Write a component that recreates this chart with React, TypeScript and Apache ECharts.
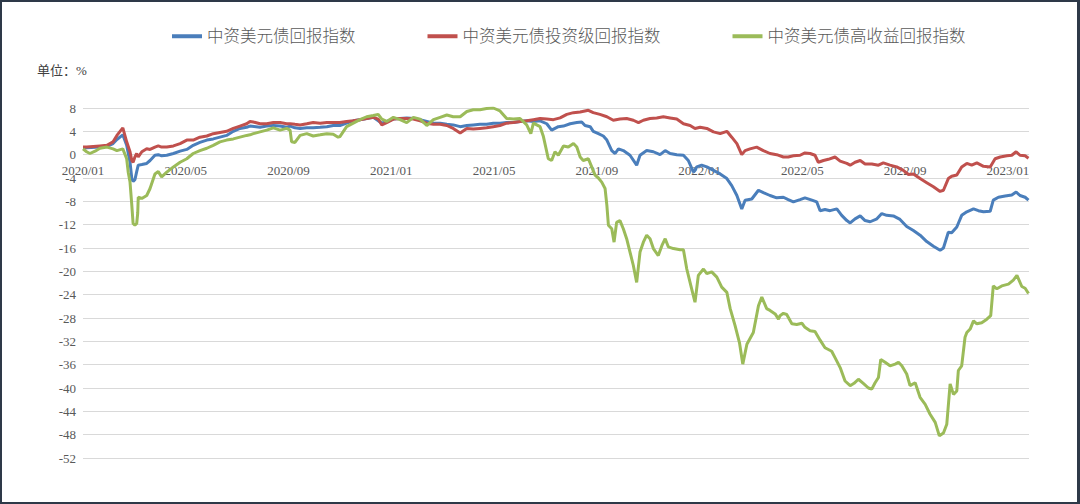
import React, { useEffect, useRef } from 'react';
import * as echarts from 'echarts';

// x 轴单位：自 2020/01 起的月数
const seriesNames = ['中资美元债回报指数', '中资美元债投资级回报指数', '中资美元债高收益回报指数'];
const seriesColors = ['#4A7EBB', '#C0504D', '#9BBB59'];
const xTickLabels = ['2020/01', '2020/05', '2020/09', '2021/01', '2021/05', '2021/09', '2022/01', '2022/05', '2022/09', '2023/01'];
const unitLabel = '单位：%';

const totalReturn = [
  [0, 1.2], [0.14, 1.2], [0.66, 1.3], [0.93, 1.4], [1.17, 1.9], [1.32, 2.6], [1.55, 3.4], [1.7, 1.6], [1.83, -1.3], [1.9, -4.1],
  [1.95, -4.6], [2.02, -4.3], [2.09, -2.9], [2.15, -1.8], [2.29, -1.7], [2.48, -1.5], [2.61, -1.0], [2.8, -0.1], [2.93, 0], [3.06, -0.2],
  [3.26, -0.1], [3.52, 0.2], [3.78, 0.6], [4.04, 0.9], [4.29, 1.6], [4.55, 2.1], [4.82, 2.5], [5.07, 2.7], [5.33, 3.0], [5.59, 3.3],
  [5.85, 4.0], [6.11, 4.5], [6.37, 4.7], [6.5, 4.9], [6.89, 4.7], [7.15, 4.9], [7.41, 5.0], [7.67, 4.9], [7.93, 4.7], [8.06, 4.9],
  [8.25, 4.6], [8.45, 4.5], [8.71, 4.6], [8.96, 4.6], [9.23, 4.7], [9.49, 4.8], [9.74, 5.0], [10.0, 5.0], [10.26, 5.4], [10.52, 5.8],
  [10.78, 6.0], [11.04, 6.2], [11.3, 6.4], [11.63, 5.4], [11.82, 5.7], [12.08, 6.1], [12.34, 6.2], [12.6, 6.3], [12.86, 6.2], [13.12, 6.0],
  [13.38, 5.7], [13.64, 5.4], [13.9, 5.4], [14.16, 5.2], [14.41, 5.1], [14.68, 4.8], [14.94, 5.0], [15.19, 5.1], [15.45, 5.2], [15.71, 5.2],
  [15.97, 5.4], [16.23, 5.4], [16.49, 5.5], [16.75, 5.5], [17.01, 5.7], [17.27, 5.8], [17.53, 5.7], [17.79, 5.8], [18.05, 5.3], [18.24, 4.2],
  [18.37, 4.5], [18.5, 4.8], [18.7, 4.9], [18.96, 5.3], [19.22, 5.5], [19.41, 5.6], [19.54, 5.0], [19.74, 4.8], [19.86, 4.0], [20.06, 3.6],
  [20.25, 3.2], [20.39, 2.5], [20.58, 0.7], [20.71, 0.2], [20.84, 1.0], [21.03, 0.7], [21.29, -0.1], [21.55, -1.8], [21.68, -0.1], [21.94, 0.7],
  [22.2, 0.5], [22.46, 0], [22.66, 0.7], [22.85, 0.2], [23.11, 0], [23.37, -0.1], [23.56, -1.0], [23.76, -3.0], [23.89, -2.1], [24.08, -1.8],
  [24.28, -2.1], [24.54, -2.7], [24.8, -3.3], [25.06, -4.1], [25.25, -5.3], [25.45, -7.0], [25.64, -9.3], [25.77, -7.8], [26.03, -7.6], [26.29, -6.1],
  [26.48, -6.5], [26.74, -7.0], [27.0, -7.4], [27.26, -7.3], [27.45, -7.7], [27.65, -8.1], [27.91, -7.7], [28.1, -7.4], [28.37, -7.8], [28.56, -8.1],
  [28.69, -9.6], [28.88, -9.4], [29.08, -9.6], [29.34, -9.3], [29.53, -10.4], [29.73, -11.3], [29.86, -11.7], [30.05, -11.0], [30.25, -10.5], [30.44, -11.3],
  [30.64, -11.5], [30.9, -11.0], [31.09, -10.1], [31.28, -10.4], [31.54, -10.5], [31.8, -11.1], [32.06, -12.3], [32.32, -13.0], [32.58, -13.8], [32.84, -14.9],
  [33.1, -15.7], [33.36, -16.4], [33.49, -16.0], [33.68, -13.3], [33.81, -13.4], [34.01, -12.4], [34.2, -10.4], [34.4, -9.8], [34.66, -9.3], [34.85, -9.6],
  [35.05, -9.8], [35.31, -9.7], [35.43, -7.8], [35.63, -7.3], [35.89, -7.1], [36.15, -6.9], [36.32, -6.4], [36.47, -7.0], [36.67, -7.3], [36.8, -7.8],
];

const investmentGrade = [
  [0, 1.3], [0.14, 1.3], [0.66, 1.5], [0.93, 1.6], [1.17, 2.2], [1.32, 3.3], [1.55, 4.6], [1.7, 2.2], [1.83, 0.5], [1.9, -1.0],
  [1.95, -1.3], [2.02, -0.4], [2.09, 0.2], [2.15, -0.4], [2.29, 0.5], [2.48, 1.0], [2.61, 0.9], [2.8, 1.3], [2.93, 1.5], [3.06, 1.3],
  [3.26, 1.3], [3.52, 1.5], [3.78, 1.9], [4.04, 2.5], [4.29, 2.5], [4.55, 3.0], [4.82, 3.2], [5.07, 3.6], [5.33, 3.8], [5.59, 4.0],
  [5.85, 4.5], [6.11, 4.9], [6.37, 5.3], [6.5, 5.7], [6.63, 5.6], [6.89, 5.3], [7.15, 5.3], [7.41, 5.5], [7.67, 5.5], [7.93, 5.3],
  [8.06, 5.3], [8.25, 5.2], [8.45, 5.1], [8.71, 5.3], [8.96, 5.5], [9.23, 5.4], [9.49, 5.5], [9.74, 5.5], [10.0, 5.5], [10.26, 5.7],
  [10.52, 5.8], [10.78, 6.0], [11.04, 6.2], [11.3, 6.4], [11.49, 6.1], [11.63, 5.1], [11.82, 5.5], [12.08, 6.1], [12.34, 6.2], [12.6, 6.2],
  [12.86, 6.1], [13.12, 5.8], [13.38, 5.4], [13.64, 5.2], [13.9, 5.2], [14.16, 5.0], [14.41, 4.5], [14.68, 3.7], [14.94, 4.5], [15.19, 4.4],
  [15.45, 4.5], [15.71, 4.6], [15.97, 4.8], [16.23, 5.0], [16.49, 5.4], [16.75, 5.5], [17.01, 5.7], [17.27, 5.8], [17.53, 6.0], [17.79, 6.2],
  [18.05, 6.1], [18.31, 6.0], [18.57, 6.3], [18.83, 6.9], [19.09, 7.2], [19.35, 7.3], [19.67, 7.6], [19.86, 7.2], [20.12, 6.9], [20.39, 6.5],
  [20.64, 5.9], [20.9, 6.1], [21.16, 6.2], [21.42, 5.9], [21.62, 5.5], [21.81, 5.9], [22.07, 6.2], [22.33, 6.3], [22.59, 6.5], [22.85, 6.3],
  [23.11, 6.1], [23.37, 5.3], [23.63, 5.0], [23.82, 4.5], [24.02, 4.7], [24.28, 4.5], [24.54, 3.9], [24.8, 3.6], [25.06, 4.0], [25.25, 3.0],
  [25.45, 1.9], [25.64, 0], [25.77, 0.7], [25.96, 1.0], [26.22, 1.3], [26.48, 0.7], [26.74, 0.2], [27.0, 0], [27.26, -0.4], [27.45, -0.4],
  [27.65, -0.2], [27.91, -0.1], [28.1, 0.3], [28.3, 0.2], [28.49, -0.1], [28.62, -1.3], [28.82, -1.0], [29.01, -0.8], [29.27, -0.4], [29.47, -1.1],
  [29.73, -1.5], [29.86, -1.8], [30.05, -1.3], [30.25, -1.0], [30.44, -1.6], [30.7, -1.6], [30.96, -1.8], [31.15, -1.4], [31.41, -1.8], [31.67, -2.1],
  [31.93, -2.7], [32.13, -3.4], [32.32, -3.3], [32.58, -4.1], [32.84, -4.8], [33.1, -5.5], [33.36, -6.3], [33.49, -6.1], [33.68, -4.1], [33.81, -3.7],
  [34.01, -3.5], [34.2, -2.1], [34.4, -1.5], [34.59, -1.8], [34.79, -1.4], [35.05, -2.0], [35.31, -2.1], [35.5, -0.7], [35.7, -0.4], [35.96, -0.2],
  [36.15, -0.1], [36.32, 0.5], [36.47, -0.1], [36.67, -0.2], [36.8, -0.6],
];

const highYield = [
  [0, 1.0], [0.14, 0.5], [0.27, 0.2], [0.47, 0.6], [0.66, 1.1], [0.93, 1.3], [1.17, 1.0], [1.32, 0.7], [1.55, 1.0], [1.7, -0.7],
  [1.76, -3.0], [1.83, -4.7], [1.9, -8.7], [1.95, -11.8], [2.02, -12.1], [2.09, -11.8], [2.13, -10.0], [2.15, -7.3], [2.29, -7.5], [2.48, -7.0],
  [2.61, -5.8], [2.8, -3.3], [2.93, -2.9], [3.06, -3.8], [3.26, -3.0], [3.52, -2.1], [3.78, -1.3], [4.04, -0.7], [4.29, 0.2], [4.55, 0.7],
  [4.82, 1.1], [5.07, 1.6], [5.33, 2.2], [5.59, 2.5], [5.85, 2.7], [6.11, 3.0], [6.37, 3.3], [6.5, 3.4], [6.63, 3.6], [6.89, 3.9],
  [7.15, 4.2], [7.41, 4.6], [7.67, 4.2], [7.93, 4.5], [8.06, 4.2], [8.12, 2.2], [8.25, 2.1], [8.45, 3.3], [8.71, 3.6], [8.96, 3.2],
  [9.23, 3.4], [9.49, 3.6], [9.74, 3.5], [9.93, 3.0], [10.0, 3.1], [10.26, 4.8], [10.52, 5.4], [10.78, 6.0], [11.04, 6.5], [11.3, 6.7],
  [11.49, 6.9], [11.63, 6.1], [11.82, 5.7], [12.08, 6.4], [12.34, 6.0], [12.6, 5.5], [12.86, 6.4], [13.12, 6.1], [13.38, 5.0], [13.64, 6.0],
  [13.9, 6.4], [14.16, 6.8], [14.41, 6.5], [14.68, 6.5], [14.94, 7.4], [15.19, 7.7], [15.45, 7.7], [15.71, 7.9], [15.97, 8.0], [16.23, 7.5],
  [16.49, 6.2], [16.75, 6.1], [17.01, 6.2], [17.27, 5.1], [17.43, 3.6], [17.53, 5.4], [17.79, 4.8], [17.92, 3.1], [18.11, -0.7], [18.24, -1.0],
  [18.37, 0.5], [18.5, -0.1], [18.7, 1.5], [18.89, 1.3], [19.09, 1.9], [19.22, 1.3], [19.35, -0.4], [19.47, -1.0], [19.67, -0.7], [19.8, -2.1],
  [19.93, -3.5], [20.06, -4.0], [20.19, -4.7], [20.32, -5.8], [20.39, -8.7], [20.45, -12.1], [20.58, -12.7], [20.67, -15.0], [20.77, -11.6], [20.9, -11.3],
  [21.03, -12.7], [21.16, -14.4], [21.29, -16.7], [21.42, -19.0], [21.55, -21.9], [21.68, -16.7], [21.81, -15.0], [21.94, -13.8], [22.07, -14.4], [22.2, -16.1],
  [22.39, -17.3], [22.53, -15.6], [22.66, -14.4], [22.78, -15.8], [22.98, -16.1], [23.24, -16.3], [23.37, -16.3], [23.5, -19.6], [23.69, -23.0], [23.82, -25.3],
  [23.95, -20.7], [24.15, -19.6], [24.28, -20.4], [24.47, -20.1], [24.67, -21.0], [24.86, -22.7], [25.06, -23.6], [25.19, -26.4], [25.38, -29.3], [25.55, -32.2],
  [25.68, -35.9], [25.84, -32.5], [26.09, -30.5], [26.29, -25.9], [26.42, -24.4], [26.61, -26.4], [26.74, -26.7], [26.94, -27.3], [27.07, -28.2], [27.13, -27.6],
  [27.26, -27.2], [27.39, -27.4], [27.59, -29.0], [27.78, -29.1], [27.98, -28.9], [28.1, -29.6], [28.3, -30.2], [28.49, -30.3], [28.69, -31.8], [28.88, -33.1],
  [29.14, -33.7], [29.27, -34.8], [29.47, -36.5], [29.66, -38.8], [29.86, -39.6], [30.01, -39.2], [30.18, -38.5], [30.37, -39.2], [30.57, -40.0], [30.7, -40.2],
  [30.83, -39.1], [30.96, -38.2], [31.05, -35.1], [31.22, -35.6], [31.41, -36.2], [31.61, -35.9], [31.74, -35.6], [31.87, -36.2], [32.06, -37.6], [32.19, -39.6],
  [32.39, -39.1], [32.58, -41.6], [32.78, -42.8], [32.97, -44.5], [33.17, -45.9], [33.33, -48.2], [33.49, -47.7], [33.62, -46.2], [33.75, -39.3], [33.88, -41.1],
  [34.01, -40.5], [34.07, -37.0], [34.2, -36.2], [34.33, -31.3], [34.4, -30.5], [34.53, -29.9], [34.66, -28.5], [34.79, -29.0], [34.98, -28.8], [35.18, -28.2],
  [35.33, -27.6], [35.43, -22.5], [35.57, -23.0], [35.76, -22.5], [36.02, -22.2], [36.21, -21.5], [36.35, -20.7], [36.54, -22.6], [36.67, -22.9], [36.8, -23.8],
];

const seriesData = [totalReturn, investmentGrade, highYield];

const serifFont = "'Liberation Serif', 'Noto Sans CJK SC', serif";
const labelColor = '#595959';
const gridColor = '#D9D9D9';

const App: React.FC = () => {
  const chartRef = useRef<HTMLDivElement>(null);

  useEffect(() => {
    document.body.style.margin = '0';
    if (!chartRef.current) return;
    const chart = echarts.init(chartRef.current, undefined, { renderer: 'svg' });

    chart.setOption({
      animation: false,
      backgroundColor: '#ffffff',
      legend: {
        data: seriesNames,
        left: 167,
        top: 23,
        icon: 'rect',
        itemWidth: 30,
        itemHeight: 4,
        itemGap: 72,
        textStyle: { fontFamily: serifFont, fontSize: 16.5, fontWeight: 300, color: labelColor },
      },
      graphic: [
        {
          type: 'text',
          left: 37,
          top: 64,
          style: { text: unitLabel, fontFamily: serifFont, fontSize: 13, fill: '#404040' },
        },
      ],
      grid: { left: 83, right: 51, top: 108, bottom: 46 },
      xAxis: {
        type: 'value',
        min: 0,
        max: 36.82,
        interval: 4,
        // 标签放在 0 线下方（Excel 风格）
        axisLine: { show: false, onZero: false },
        axisTick: { show: false },
        splitLine: { show: false },
        axisLabel: {
          margin: -294,
          fontFamily: serifFont,
          fontSize: 13,
          color: labelColor,
          formatter: (v: number) => {
            const i = Math.round(v / 4);
            return Math.abs(v - i * 4) < 1e-6 ? xTickLabels[i] ?? '' : '';
          },
        },
      },
      yAxis: {
        type: 'value',
        min: -52,
        max: 8,
        interval: 4,
        axisLine: { show: false, onZero: false },
        axisTick: { show: false },
        axisLabel: { margin: 7, fontFamily: serifFont, fontSize: 13, color: labelColor },
        splitLine: { lineStyle: { color: gridColor, width: 1 } },
      },
      series: seriesNames.map((name, i) => ({
        name,
        type: 'line',
        data: seriesData[i],
        showSymbol: false,
        symbol: 'none',
        lineStyle: { width: 3, color: seriesColors[i] },
        itemStyle: { color: seriesColors[i] },
      })),
    });

    return () => {
      chart.dispose();
    };
  }, []);

  return (
    <div style={{ position: 'relative', width: 1080, height: 504 }}>
      <div ref={chartRef} style={{ position: 'absolute', left: 0, top: 0, width: 1080, height: 504 }} />
      <div
        style={{
          position: 'absolute',
          left: 0,
          top: 0,
          width: 1080,
          height: 504,
          boxSizing: 'border-box',
          border: '2px solid #2E3948',
          borderRightWidth: 3,
          pointerEvents: 'none',
        }}
      />
    </div>
  );
};

export default App;
